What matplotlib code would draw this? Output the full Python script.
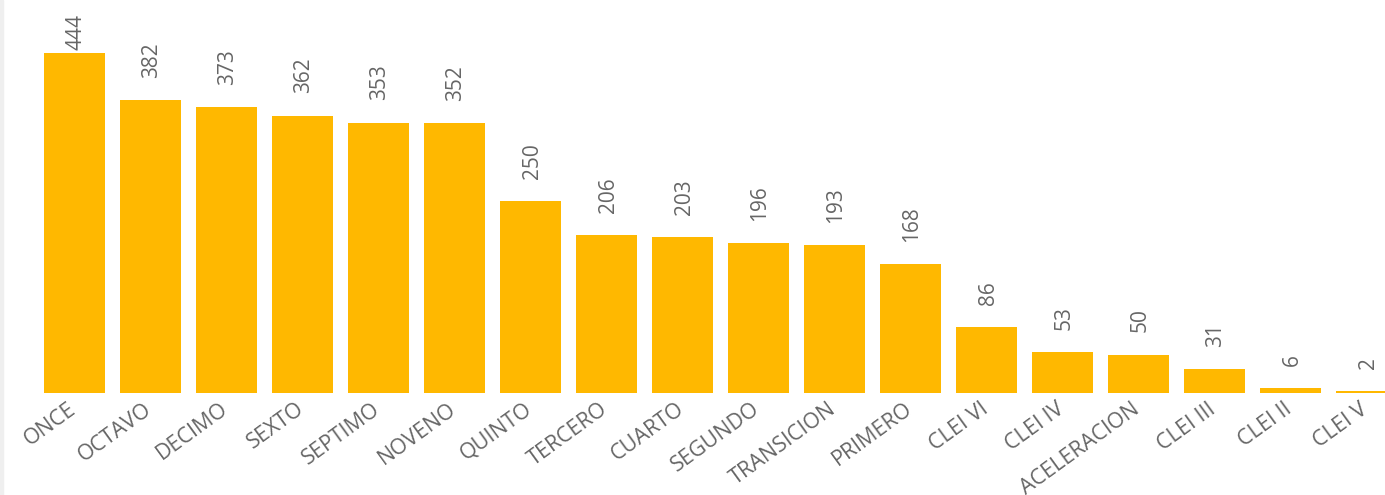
import matplotlib.pyplot as plt
from matplotlib.patches import Rectangle
from matplotlib.transforms import ScaledTranslation

# Data
grades = ["ONCE", "OCTAVO", "DECIMO", "SEXTO", "SEPTIMO", "NOVENO", "QUINTO",
          "TERCERO", "CUARTO", "SEGUNDO", "TRANSICION", "PRIMERO", "CLEI VI",
          "CLEI IV", "ACELERACION", "CLEI III", "CLEI II", "CLEI V"]
counts = [444, 382, 373, 362, 353, 352, 250, 206, 203, 196, 193, 168, 86,
          53, 50, 31, 6, 2]

bar_color = "#FFB800"
text_color = "#666666"
font_size = 15
tick_font_size = 15.5

plt.rcParams['font.family'] = ['Open Sans', 'DejaVu Sans']

fig = plt.figure(figsize=(13.85, 4.95), dpi=100)
fig.patches.append(Rectangle((0, 0), 3 / 1385, 1, transform=fig.transFigure,
                             color="#EFEFEF", zorder=0))
ax = fig.add_axes([3 / 1385, 102 / 495, 1382 / 1385, 393 / 495])

x = list(range(len(grades)))
ax.bar(x, counts, width=0.80, color=bar_color)

ymax = 513
for xi, v in zip(x, counts):
    ax.text(xi + 0.02, min(v + 29, 448), str(v), rotation=90, ha="center",
            va="bottom", fontsize=font_size, color=text_color)

ax.set_xlim(-0.941, 17.243)
ax.set_ylim(0, ymax)
ax.set_xticks(x)
ax.set_xticklabels(grades, rotation=36, ha="right", rotation_mode="anchor",
                   fontsize=tick_font_size, color=text_color)
ax.tick_params(axis="x", length=0, pad=4)
shift = ScaledTranslation(-7 / 100, 0, fig.dpi_scale_trans)
for lbl in ax.get_xticklabels():
    lbl.set_transform(lbl.get_transform() + shift)
ax.set_yticks([])
for s in ax.spines.values():
    s.set_visible(False)

plt.savefig("out.png", dpi=100)
